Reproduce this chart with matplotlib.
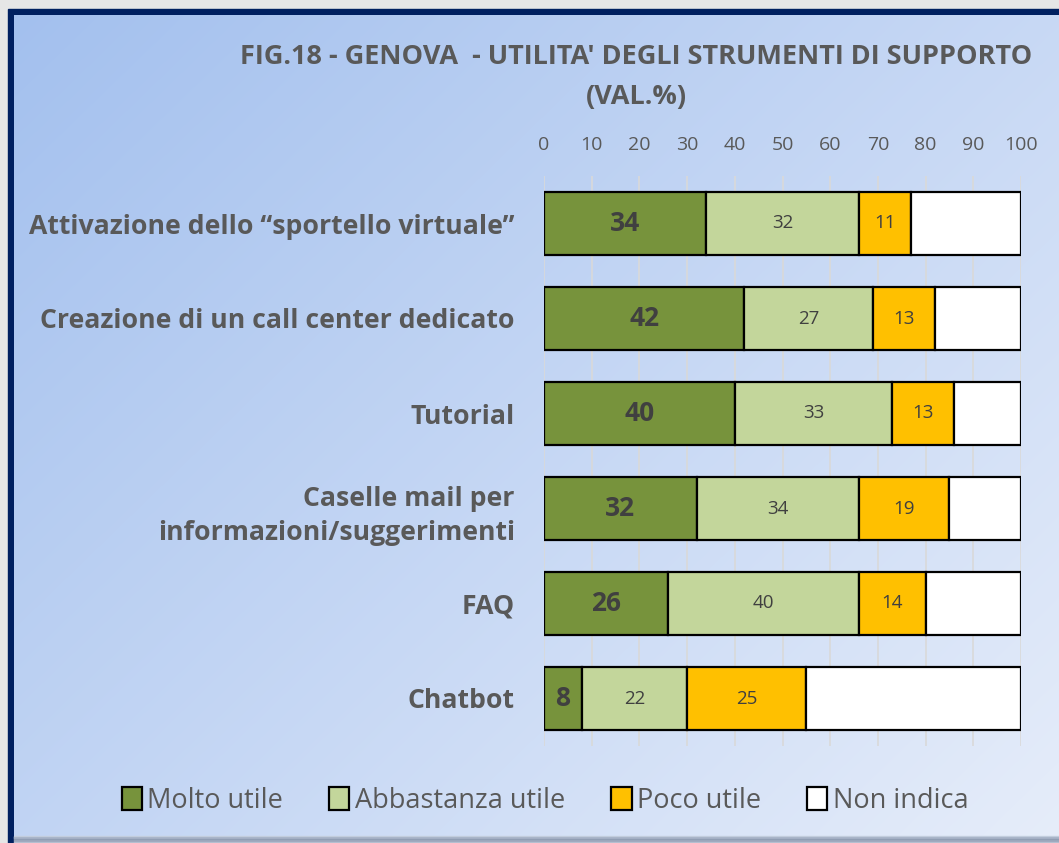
import matplotlib.pyplot as plt
import numpy as np
from matplotlib.patches import Rectangle

categories = ['Attivazione dello \u201csportello virtuale\u201d',
              'Creazione di un call center dedicato',
              'Tutorial',
              'Caselle mail per\ninformazioni/suggerimenti',
              'FAQ',
              'Chatbot']
molto = [34, 42, 40, 32, 26, 8]
abbastanza = [32, 27, 33, 34, 40, 22]
poco = [11, 13, 13, 19, 14, 25]
non_indica = [23, 18, 14, 15, 20, 45]

series = [('Molto utile', molto, '#77933C'),
          ('Abbastanza utile', abbastanza, '#C3D69B'),
          ('Poco utile', poco, '#FFC000'),
          ('Non indica', non_indica, '#FFFFFF')]

plt.rcParams['font.family'] = ['Open Sans', 'DejaVu Sans']
TXT = '#595959'

W, H = 1059, 843
fig = plt.figure(figsize=(W / 100, H / 100), dpi=100)

# background: grey page, navy frame, diagonal blue gradient panel
bg = fig.add_axes([0, 0, 1, 1], zorder=-10)
bg.set_xlim(0, W)
bg.set_ylim(H, 0)
bg.axis('off')
bg.add_patch(Rectangle((0, 0), W, H, color='#E6E6E6'))
bg.add_patch(Rectangle((8, 9), W - 8, H - 9, color='#002060'))
yy, xx = np.mgrid[0:H - 15, 0:W - 14]
t = (xx / (W - 14) * 0.55 + yy / (H - 15) * 0.45)
c0 = np.array([163, 192, 238]) / 255
c1 = np.array([230, 237, 250]) / 255
grad = c0 + (c1 - c0) * t[..., None]
bg.imshow(grad, extent=(14, W, H, 15), aspect='auto', zorder=1)
# soft shadow along the bottom edge
shade = ['#C9D3E3', '#A9B5C9', '#8E9BB2', '#9AA6BB', '#B5BFD0']
for i, c in enumerate(shade):
    bg.add_patch(Rectangle((14, H - 7 + i * 1.4), W - 14, 1.5, color=c, zorder=2))

ax = fig.add_axes([544 / W, 1 - 746 / H, 477 / W, 570 / H])
ax.patch.set_alpha(0)
y = np.arange(len(categories))
left = np.zeros(len(categories))
for name, vals, col in series:
    bars = ax.barh(y, vals, left=left, height=0.67, color=col,
                   edgecolor='black', linewidth=1.6, label=name, zorder=3)
    if name == 'Molto utile':
        ax.bar_label(bars, label_type='center', fontsize=19, fontweight='bold', color='#404040')
    elif name != 'Non indica':
        ax.bar_label(bars, label_type='center', fontsize=13.5, color='#404040')
    left += np.array(vals)

ax.set_xlim(0, 100)
ax.set_ylim(len(categories) - 0.5, -0.5)
ax.set_xticks(range(0, 101, 10))
ax.xaxis.tick_top()
ax.tick_params(axis='x', length=0, pad=16, labelsize=14, labelcolor=TXT)
ax.set_yticks(y)
ax.set_yticklabels(categories, fontsize=19.2, fontweight='bold', color=TXT, ha='right',
                   linespacing=1.4)
ax.tick_params(axis='y', length=0, pad=21)
ax.grid(axis='x', color='#D9D9D9', linewidth=1.2, zorder=0)
for s in ax.spines.values():
    s.set_visible(False)

fig.text(636 / W, 1 - 57 / H, "FIG.18 - GENOVA  - UTILITA' DEGLI STRUMENTI DI SUPPORTO",
         ha='center', va='center', fontsize=19.5, fontweight='bold', color=TXT)
fig.text(636 / W, 1 - 97 / H, '(VAL.%)', ha='center', va='center',
         fontsize=19.5, fontweight='bold', color=TXT)

fig.legend(loc='center', bbox_to_anchor=(545 / W, 1 - 801 / H), ncol=4, frameon=False,
           fontsize=19.5, labelcolor=TXT, handlelength=0.75, handleheight=0.9,
           handletextpad=0.2, columnspacing=1.7)

fig.savefig('out.png', dpi=100)
